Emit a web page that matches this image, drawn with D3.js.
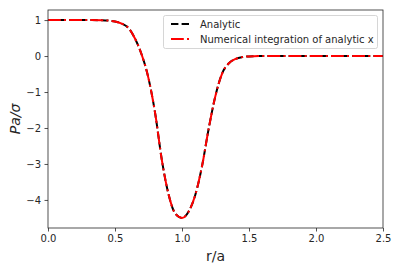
<!DOCTYPE html>
<html>
<head>
<meta charset="utf-8">
<script src="https://cdn.jsdelivr.net/npm/d3@7"></script>
<style>
body { margin: 0; background: #fff; }
text { font-family: "DejaVu Sans", sans-serif; }
</style>
</head>
<body>
<svg id="chart" width="397" height="270"></svg>
<script>
// values
var rValues = [0, 0.1, 0.2, 0.3, 0.4, 0.45, 0.5, 0.55, 0.6, 0.65, 0.7, 0.75, 0.8, 0.85, 0.9, 0.95, 1.0,
	1.05, 1.1, 1.15, 1.2, 1.25, 1.3, 1.35, 1.4, 1.45, 1.5, 1.6, 1.8, 2.0, 2.2, 2.5]
var analytic = [1, 1, 1, 1, 0.995, 0.985, 0.96, 0.9, 0.78, 0.48, 0.03, -0.62, -1.6, -2.9, -3.85, -4.38, -4.5,
	-4.32, -3.85, -3.05, -2.0, -1.1, -0.48, -0.2, -0.08, -0.03, -0.01, 0, 0, 0, 0, 0]
var numerical = [1, 1, 1, 1, 0.995, 0.985, 0.96, 0.9, 0.78, 0.48, 0.03, -0.62, -1.6, -2.9, -3.85, -4.38, -4.5,
	-4.32, -3.85, -3.05, -2.0, -1.1, -0.48, -0.2, -0.08, -0.03, -0.01, 0, 0, 0, 0, 0]
var xTicks = [0, 0.5, 1.0, 1.5, 2.0, 2.5]
var yTicks = [1, 0, -1, -2, -3, -4]
var seriesNames = ['Analytic', 'Numerical integration of analytic x']

var svg = d3.select('#chart')
var padL = 48, padR = 383, padT = 10, padB = 228

var x = d3.scaleLinear().domain([0, 2.5]).range([padL, padR])
var y = d3.scaleLinear().domain([-4.78, 1.28]).range([padB, padT])

var fmtX = function (d) { return d.toFixed(1) }
var fmtY = function (d) { return d < 0 ? '\u2212' + Math.abs(d) : '' + d }

var g = svg.append('g')

var line = d3.line()
	.x(function (d, i) { return x(rValues[i]) })
	.y(function (d) { return y(d) })
	.curve(d3.curveMonotoneX)

g.append('path')
	.attr('d', line(analytic))
	.attr('fill', 'none')
	.attr('stroke', '#000')
	.attr('stroke-width', 2)
	.attr('stroke-dasharray', '7.4,3.2')
g.append('path')
	.attr('d', line(numerical))
	.attr('fill', 'none')
	.attr('stroke', '#ff0000')
	.attr('stroke-width', 2)
	.attr('stroke-dasharray', '12.8,3.2,2,3.2')

// axes
svg.append('g')
	.attr('transform', 'translate(0,' + padB + ')')
	.call(d3.axisBottom(x).tickValues(xTicks).tickFormat(fmtX).tickSizeInner(3.5).tickSizeOuter(0).tickPadding(3.5))
svg.append('g')
	.attr('transform', 'translate(' + padL + ',0)')
	.call(d3.axisLeft(y).tickValues(yTicks).tickFormat(fmtY).tickSizeInner(3.5).tickSizeOuter(0).tickPadding(3.5))
svg.selectAll('.tick text').attr('font-size', '10px').attr('fill', '#262626')
	.style('font-family', '"DejaVu Sans", sans-serif')
svg.selectAll('.domain').remove()
svg.selectAll('.tick line').attr('stroke', '#262626').attr('stroke-width', 0.8)

svg.append('rect')
	.attr('x', padL).attr('y', padT)
	.attr('width', padR - padL).attr('height', padB - padT)
	.attr('fill', 'none').attr('stroke', '#262626').attr('stroke-width', 0.8)

// axis labels
svg.append('text')
	.attr('x', (padL + padR) / 2).attr('y', 261)
	.attr('text-anchor', 'middle').attr('font-size', '14px').attr('fill', '#262626')
	.text('r/a')
var yl = svg.append('text')
	.attr('transform', 'translate(20,' + ((padT + padB) / 2) + ') rotate(-90)')
	.attr('text-anchor', 'middle').attr('font-size', '14px').attr('fill', '#262626')
	.attr('font-style', 'italic')
yl.append('tspan').text('Pa')
yl.append('tspan').text('/')
yl.append('tspan').text('σ')

// legend
var lg = svg.append('g')
lg.append('rect')
	.attr('x', 163.5).attr('y', 15.5).attr('width', 214).attr('height', 33).attr('rx', 2)
	.attr('fill', 'rgba(255,255,255,0.8)').attr('stroke', '#cccccc').attr('stroke-width', 0.8)
var dashes = ['7.4,3.2', '12.8,3.2,2,3.2']
var colors = ['#000', '#ff0000']
lg.selectAll('.legLine')
	.data(seriesNames)
	.join('line')
	.attr('class', 'legLine')
	.attr('x1', 171).attr('x2', 191)
	.attr('y1', function (d, i) { return 24 + 15 * i })
	.attr('y2', function (d, i) { return 24 + 15 * i })
	.attr('stroke', function (d, i) { return colors[i] })
	.attr('stroke-width', 2)
	.attr('stroke-dasharray', function (d, i) { return dashes[i] })
lg.selectAll('.legText')
	.data(seriesNames)
	.join('text')
	.attr('class', 'legText')
	.attr('x', 200)
	.attr('y', function (d, i) { return 27.5 + 15 * i })
	.attr('font-size', '10px').attr('fill', '#262626')
	.text(function (d) { return d })
</script>
</body>
</html>
